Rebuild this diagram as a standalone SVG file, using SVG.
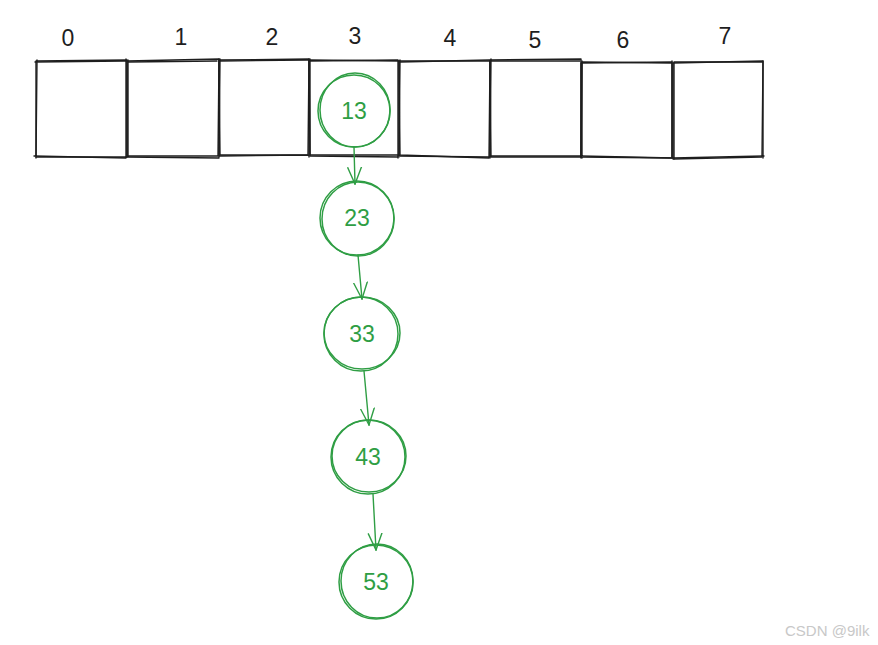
<svg xmlns="http://www.w3.org/2000/svg" width="878" height="645" viewBox="0 0 878 645">
<defs>
<style>
.box{fill:none;stroke:#1e1e1e;stroke-width:1.4;stroke-linecap:round;stroke-linejoin:round}
.idx{font-family:"Liberation Sans",Arial,sans-serif;font-size:23px;fill:#1e1e1e;text-anchor:middle}
.node{fill:none;stroke:#2f9e44;stroke-width:1.5}
.val{font-family:"Liberation Sans",Arial,sans-serif;font-size:23px;fill:#2f9e44;text-anchor:middle}
.edge{fill:none;stroke:#2f9e44;stroke-width:1.4;stroke-linecap:round}
.wm{font-family:"Liberation Sans",Arial,sans-serif;font-size:15px;fill:#c8c8c8}
</style>
<marker id="ah" viewBox="0 0 18 16" refX="17" refY="8" markerWidth="18" markerHeight="16" markerUnits="userSpaceOnUse" orient="auto">
<path d="M0,1 L17,8 L0,15" fill="none" stroke="#2f9e44" stroke-width="1.4"/>
</marker>
</defs>
<rect width="878" height="645" fill="#ffffff"/>
<g id="array">
<g id="cell0"><path class="box" d="M36,61 L127,60 L127,157 L36,157 Z"/><path class="box" d="M35,62 L125,61 M37,60 L36,158 M34,156 L126,158 M126,59 L126,158"/><text class="idx" x="68" y="46">0</text></g>
<g id="cell1"><path class="box" d="M127,61 L219,59 L218,156 L127,156 Z"/><path class="box" d="M128,62 L217,61 M128,60 L128,157 M126,157 L219,158 M219,59 L219,157"/><text class="idx" x="181" y="45">1</text></g>
<g id="cell2"><path class="box" d="M219,60 L309,59 L308,155 L220,155 Z"/><path class="box" d="M220,61 L308,60 M220,59 L219,156 M220,156 L309,155 M309,59 L309,157"/><text class="idx" x="272" y="45">2</text></g>
<g id="cell3"><path class="box" d="M309,60 L399,61 L399,155 L310,155 Z"/><path class="box" d="M310,61 L398,60 M310,59 L310,156 M310,156 L398,157 M398,60 L398,158"/><text class="idx" x="355" y="44">3</text></g>
<g id="cell4"><path class="box" d="M399,61 L490,61 L489,158 L400,155 Z"/><path class="box" d="M400,62 L489,60 M400,60 L399,157 M398,156 L489,157 M490,60 L490,157"/><text class="idx" x="450" y="46">4</text></g>
<g id="cell5"><path class="box" d="M490,60 L581,59 L581,157 L491,157 Z"/><path class="box" d="M491,61 L580,61 M491,59 L490,158 M491,156 L581,156 M582,61 L581,158"/><text class="idx" x="535" y="48">5</text></g>
<g id="cell6"><path class="box" d="M581,63 L672,62 L672,158 L581,157 Z"/><path class="box" d="M582,62 L671,63 M582,62 L582,158 M581,156 L673,158 M672,61 L672,158"/><text class="idx" x="623" y="48">6</text></g>
<g id="cell7"><path class="box" d="M673,63 L763,61 L762,157 L673,159 Z"/><path class="box" d="M674,62 L762,62 M674,62 L674,159 M673,158 L764,156 M763,61 L763,158"/><text class="idx" x="725" y="44">7</text></g>
</g>
<g id="connectors">
<path class="edge" d="M354,147 L355,184" marker-end="url(#ah)"/>
<path class="edge" d="M358,255 L362,299" marker-end="url(#ah)"/>
<path class="edge" d="M364,371 L369,425" marker-end="url(#ah)"/>
<path class="edge" d="M373,494 L376,550" marker-end="url(#ah)"/>
</g>
<g id="n13"><circle class="node" cx="354" cy="111" r="36"/><ellipse class="node" cx="355" cy="110" rx="35" ry="37"/><text class="val" x="354" y="119">13</text></g>
<g id="n23"><circle class="node" cx="357" cy="218" r="37"/><ellipse class="node" cx="358" cy="219" rx="36" ry="37"/><text class="val" x="357" y="226">23</text></g>
<g id="n33"><circle class="node" cx="361" cy="334" r="37"/><ellipse class="node" cx="362" cy="333" rx="38" ry="36"/><text class="val" x="362" y="342">33</text></g>
<g id="n43"><circle class="node" cx="368" cy="457" r="37"/><ellipse class="node" cx="369" cy="456" rx="37" ry="36"/><text class="val" x="368" y="465">43</text></g>
<g id="n53"><circle class="node" cx="376" cy="582" r="37"/><ellipse class="node" cx="377" cy="581" rx="36" ry="37"/><text class="val" x="376" y="590">53</text></g>
<text class="wm" x="785" y="636">CSDN @9ilk</text>
</svg>
